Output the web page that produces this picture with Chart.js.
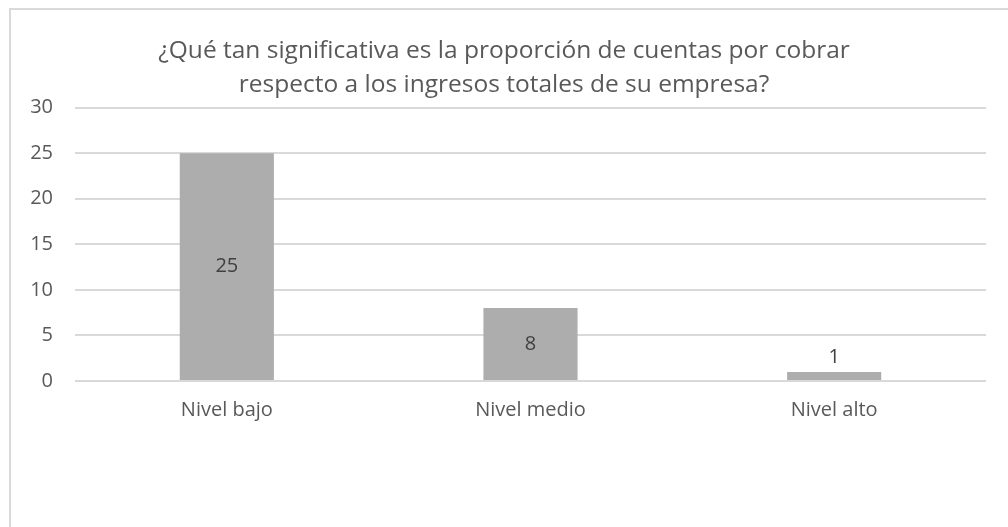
<!DOCTYPE html>
<html>
<head>
<meta charset="utf-8">
<script src="https://cdn.jsdelivr.net/npm/chart.js@4/dist/chart.umd.min.js"></script>
<style>
  html, body { margin: 0; padding: 0; background: #fff; }
  .frame {
    position: absolute; left: 9px; top: 8px; width: 1020px; height: 540px;
    border: 2px solid #d9d9d9; box-sizing: border-box;
  }
  .wrap { position: absolute; left: 0; top: 0; width: 1008px; height: 527px; }
</style>
</head>
<body>
<div class="frame"></div>
<div class="wrap"><canvas id="chart"></canvas></div>
<script>
const categories = ['Nivel bajo', 'Nivel medio', 'Nivel alto'];
const values = [25, 8, 1];
const yTicks = [0, 5, 10, 15, 20, 25, 30];
const titleLines = [
    '¿Qué tan significativa es la proporción de cuentas por cobrar',
    'respecto a los ingresos totales de su empresa?'
];

const textColor = '#595959';
const gridColor = '#d9d9d9';
const fontFamily = '"Open Sans", "Noto Sans", sans-serif';

// value labels: centred in the bar, or just above it when the bar is too short
const barLabels = {
    id: 'barLabels',
    afterDatasetsDraw(chart) {
        const ctx = chart.ctx;
        const meta = chart.getDatasetMeta(0);
        ctx.save();
        ctx.font = '20px ' + fontFamily;
        ctx.fillStyle = '#404040';
        ctx.textAlign = 'center';
        ctx.textBaseline = 'middle';
        meta.data.forEach((bar, i) => {
            const h = bar.base - bar.y;
            const y = h > 30 ? bar.y + h / 2 : bar.y - 15;
            ctx.fillText(String(values[i]), bar.x, y);
        });
        ctx.restore();
    }
};

new Chart(document.getElementById('chart').getContext('2d'), {
    type: 'bar',
    data: {
        labels: categories,
        datasets: [{
            data: values,
            backgroundColor: '#adadad',
            categoryPercentage: 0.31,
            barPercentage: 1
        }]
    },
    options: {
        responsive: true,
        maintainAspectRatio: false,
        animation: false,
        layout: { padding: { left: 22, right: 22, top: 0, bottom: 0 } },
        plugins: {
            legend: { display: false },
            tooltip: { enabled: false },
            title: {
                display: true,
                text: titleLines,
                color: textColor,
                font: { family: fontFamily, size: 24.5, weight: 'normal', lineHeight: 1.4 },
                padding: { top: 34, bottom: 5 }
            }
        },
        scales: {
            x: {
                grid: { display: false, drawTicks: false },
                border: { display: false },
                ticks: { color: textColor, font: { family: fontFamily, size: 20 }, padding: 17 },
                afterFit(scale) { scale.height = 146; }
            },
            y: {
                min: 0,
                max: 30,
                afterBuildTicks(scale) { scale.ticks = yTicks.map(v => ({ value: v })); },
                grid: { color: gridColor, lineWidth: 2, drawTicks: false },
                border: { display: false },
                ticks: { color: textColor, font: { family: fontFamily, size: 20 }, padding: 22 },
                afterFit(scale) { scale.width = 53; }
            }
        }
    },
    plugins: [barLabels]
});
</script>
</body>
</html>
